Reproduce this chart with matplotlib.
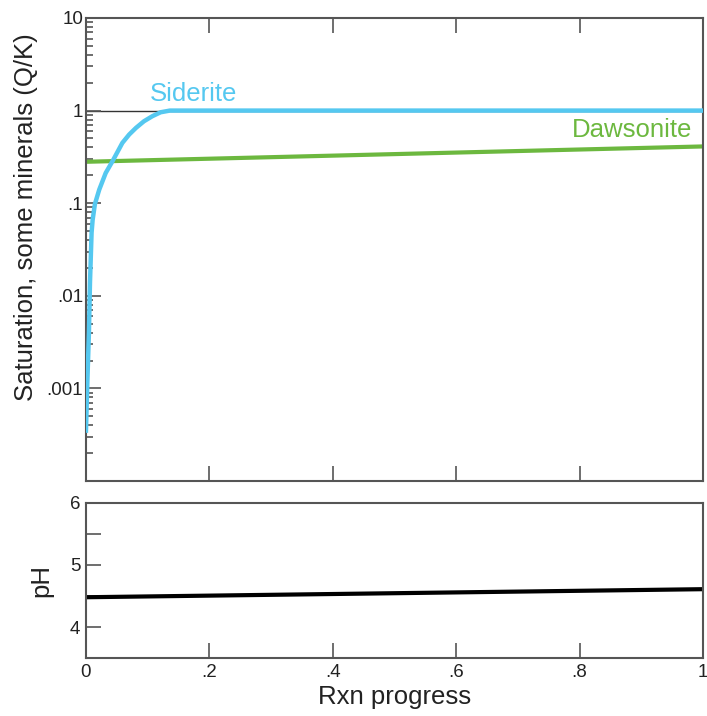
import matplotlib
matplotlib.use("Agg")
import matplotlib.pyplot as plt
from matplotlib.ticker import FixedLocator, LogLocator, NullFormatter

plt.rcParams['font.family'] = ['Liberation Sans', 'DejaVu Sans']

# data
rxn = [0.0, 1.0]

siderite_x = [0, 0.0022, 0.0048, 0.0065, 0.0091, 0.0108, 0.0145, 0.0215,
              0.032, 0.043, 0.059, 0.070, 0.081, 0.094, 0.1075, 0.121,
              0.136, 1.0]
siderite_q = [3.5e-4, 1.15e-3, 4.0e-3, 1.38e-2, 4.8e-2, 6.6e-2, 9.8e-2,
              0.140, 0.212, 0.284, 0.448, 0.551, 0.650, 0.767, 0.869,
              0.959, 1.0, 1.0]

dawsonite_q = [0.28, 0.41]
ph = [4.48, 4.61]

x_ticks = [0, 0.2, 0.4, 0.6, 0.8, 1.0]
x_labels = ['0', '.2', '.4', '.6', '.8', '1']
q_ticks = [1e-4, 1e-3, 1e-2, 1e-1, 1, 10]
q_labels = ['', '.001', '.01', '.1', '1', '10']
ph_ticks = [3.5, 4, 4.5, 5, 5.5, 6]
ph_labels = ['', '4', '', '5', '', '6']

blue = '#55c8f0'
green = '#6cb83f'
spine_col = '#555555'
txt_col = '#222222'

fig = plt.figure(figsize=(7.07, 7.16), dpi=100)
ax1 = fig.add_axes([0.1216, 0.3282, 0.8727, 0.6467])
ax2 = fig.add_axes([0.1216, 0.0810, 0.8727, 0.2165])

# top panel
ax1.set_yscale('log')
ax1.set_xlim(0, 1)
ax1.set_ylim(1e-4, 10)
ax1.axhline(1, color='#333333', lw=1, zorder=1)
ax1.plot(rxn, dawsonite_q, color=green, lw=3, zorder=2)
ax1.plot(siderite_x, siderite_q, color=blue, lw=3.2, zorder=3,
         solid_joinstyle='round')
ax1.text(0.104, 1.13, 'Siderite', color=blue, fontsize=18.5,
         ha='left', va='bottom')
ax1.text(0.983, 0.46, 'Dawsonite', color=green, fontsize=18.5,
         ha='right', va='bottom')

ax1.yaxis.set_major_locator(FixedLocator(q_ticks))
ax1.set_yticklabels(q_labels)
ax1.yaxis.set_minor_locator(LogLocator(base=10, subs=range(2, 10)))
ax1.yaxis.set_minor_formatter(NullFormatter())
ax1.set_xticks(x_ticks)
ax1.tick_params(axis='x', which='both', labelbottom=False, top=True,
                bottom=True, direction='in', length=11, width=1.2,
                color=spine_col)
ax1.tick_params(axis='y', which='major', direction='in', length=11,
                width=1.2, color=spine_col, labelsize=13.5,
                labelcolor=txt_col, pad=2)
ax1.tick_params(axis='y', which='minor', direction='in', length=5,
                width=1.2, color=spine_col)
ax1.set_ylabel('Saturation, some minerals (Q/K)', fontsize=18.5,
               color=txt_col, labelpad=6)
ax1.yaxis.set_label_coords(-0.077, 0.57)

# bottom panel
ax2.set_xlim(0, 1)
ax2.set_ylim(3.5, 6)
ax2.plot(rxn, ph, color='black', lw=3)
ax2.set_xticks(x_ticks)
ax2.set_xticklabels(x_labels)
ax2.set_yticks(ph_ticks)
ax2.set_yticklabels(ph_labels)
ax2.tick_params(axis='both', direction='in', length=11, width=1.2,
                color=spine_col, labelsize=13.5, labelcolor=txt_col, pad=4)
ax2.set_xlabel('Rxn progress', fontsize=18.5, color=txt_col, labelpad=3)
ax2.set_ylabel('pH', fontsize=18.5, color=txt_col, labelpad=12)

for ax in (ax1, ax2):
    for sp in ax.spines.values():
        sp.set_color(spine_col)
        sp.set_linewidth(1.5)

fig.savefig('out.png', dpi=100)
